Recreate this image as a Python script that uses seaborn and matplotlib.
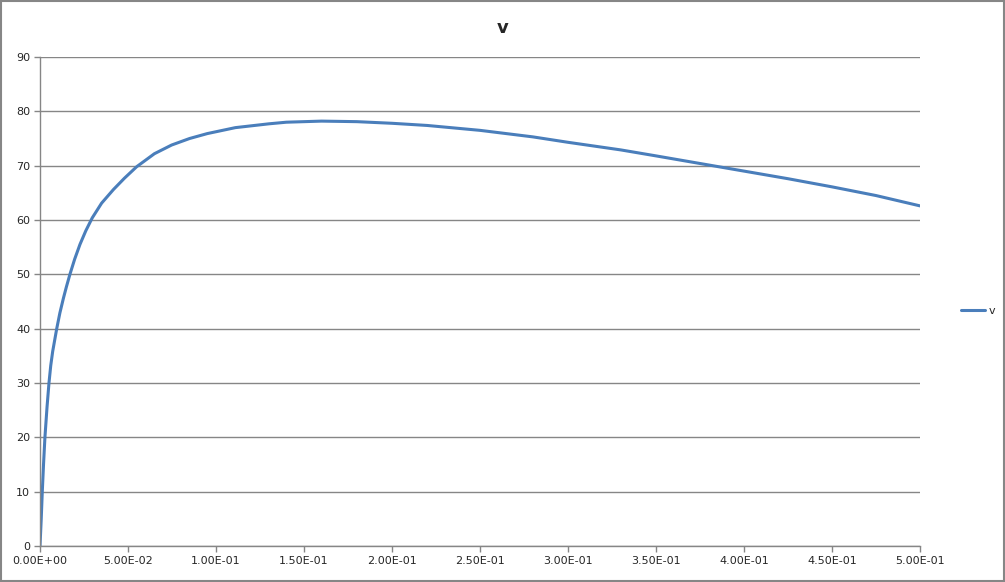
import numpy as np
import pandas as pd
import seaborn as sns
import matplotlib.pyplot as plt

# values
x_vals = [0, 0.0007, 0.0013, 0.002, 0.0028, 0.004, 0.0051, 0.0061, 0.0072, 0.0095,
          0.0113, 0.0133, 0.015, 0.017, 0.0197, 0.0227, 0.026, 0.0297, 0.035, 0.0417,
          0.048, 0.0549, 0.065, 0.0748, 0.085, 0.095, 0.111, 0.13, 0.14, 0.15,
          0.16, 0.18, 0.20, 0.22, 0.25, 0.28, 0.30, 0.33, 0.35, 0.375,
          0.40, 0.425, 0.45, 0.475, 0.50]
v_vals = [0, 5, 10, 15, 20, 25.6, 30, 33.2, 35.8, 40,
          42.9, 45.6, 47.7, 50, 52.8, 55.5, 58, 60.4, 63.1, 65.6,
          67.7, 69.8, 72.2, 73.8, 75.0, 75.9, 77.0, 77.7, 78.0, 78.1,
          78.2, 78.1, 77.8, 77.4, 76.5, 75.3, 74.3, 72.9, 71.8, 70.4,
          69.0, 67.6, 66.1, 64.5, 62.6]
x_ticks = [0, 0.05, 0.10, 0.15, 0.20, 0.25, 0.30, 0.35, 0.40, 0.45, 0.50]
y_ticks = [0, 10, 20, 30, 40, 50, 60, 70, 80, 90]

df = pd.DataFrame({"x": x_vals, "v": v_vals})

sns.set_style("white")
plt.rcParams['font.family'] = ['DejaVu Sans']

grey = "#868686"
fig = plt.figure(figsize=(10.05, 5.82), dpi=100)
ax = fig.add_axes([40 / 1005, 36 / 582, 880 / 1005, 489 / 582])

sns.lineplot(data=df, x="x", y="v", ax=ax, color="#4A7EBB", linewidth=2.2,
             label="v", estimator=None)

ax.set_xlim(0, 0.5)
ax.set_ylim(0, 90)
ax.set_xticks(x_ticks)
ax.set_xticklabels([f"{t:.2E}" for t in x_ticks])
ax.set_yticks(y_ticks)
ax.yaxis.grid(True, color=grey, linewidth=1)
ax.set_axisbelow(True)
ax.tick_params(axis="both", length=4, width=1, color=grey, labelsize=8, pad=3, direction="out",
               bottom=True, left=True)
for side in ["top", "right"]:
    ax.spines[side].set_visible(False)
for side in ["left", "bottom"]:
    ax.spines[side].set_color(grey)
    ax.spines[side].set_linewidth(1)
ax.set_xlabel("")
ax.set_ylabel("")

fig.text(0.5, 1 - 28 / 582, "v", ha="center", va="center", fontsize=13, fontweight="bold")

ax.legend(loc="center left", bbox_to_anchor=(1.035, 0.48), frameon=False, fontsize=8,
          handlelength=2.2, handletextpad=0.3)

fig.add_artist(plt.Rectangle((0.001, 0.001), 0.998, 0.997, transform=fig.transFigure,
                             fill=False, edgecolor=grey, linewidth=1.5))

fig.savefig("out.png", dpi=100)
